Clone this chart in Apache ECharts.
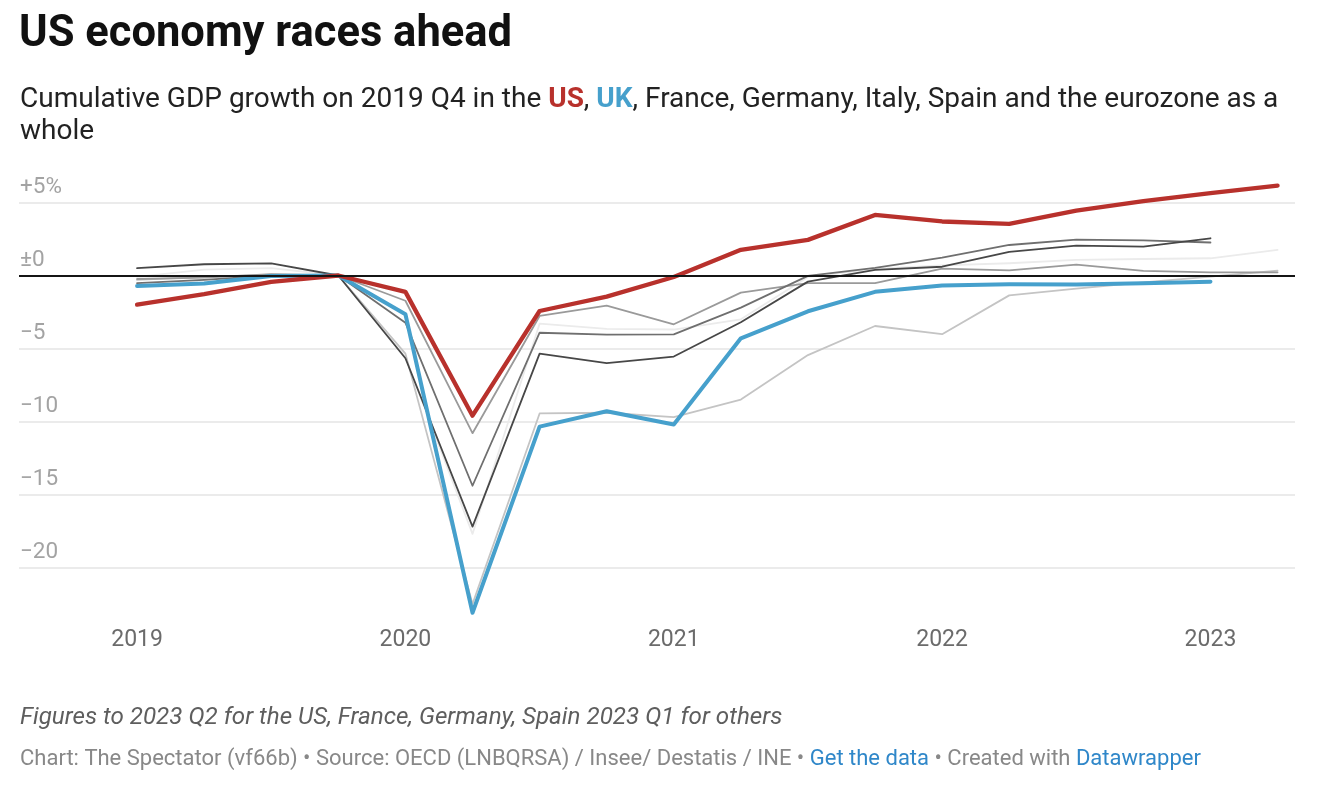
<!DOCTYPE html>
<html>
<head>
<meta charset="utf-8">
<script src="https://cdn.jsdelivr.net/npm/echarts@6/dist/echarts.min.js"></script>
<style>
  html, body { margin: 0; padding: 0; background: #fff; }
  #chart { width: 1328px; height: 808px; }
</style>
</head>
<body>
<div id="chart"></div>
<script>
// Quarters from 2019 Q1 to 2023 Q2 (index 0..17)
const quarters = ['2019 Q1','2019 Q2','2019 Q3','2019 Q4','2020 Q1','2020 Q2','2020 Q3','2020 Q4',
                  '2021 Q1','2021 Q2','2021 Q3','2021 Q4','2022 Q1','2022 Q2','2022 Q3','2022 Q4',
                  '2023 Q1','2023 Q2'];
const yearLabels = ['2019','2020','2021','2022','2023'];
const yearTickIndex = [0, 4, 8, 12, 16];

// Cumulative GDP growth vs 2019 Q4 (%)
const usData      = [-2.0, -1.28, -0.43, 0, -1.12, -9.6, -2.43, -1.45, -0.1, 1.76, 2.44, 4.15, 3.7, 3.54, 4.45, 5.09, 5.64, 6.16];
const ukData      = [-0.72, -0.55, -0.03, 0, -2.65, -23.1, -10.35, -9.3, -10.2, -4.3, -2.45, -1.12, -0.68, -0.6, -0.62, -0.53, -0.42, null];
const italyData   = [0.5, 0.77, 0.83, 0, -5.67, -17.2, -5.35, -6.0, -5.55, -3.2, -0.42, 0.38, 0.6, 1.62, 2.05, 1.98, 2.55, null];
const eurozoneData= [-0.52, -0.3, 0.0, 0, -3.23, -14.4, -3.92, -4.05, -4.03, -2.2, -0.03, 0.52, 1.22, 2.09, 2.46, 2.4, 2.26, null];
const germanyData = [-0.24, -0.15, 0.1, 0, -1.73, -10.8, -2.77, -2.07, -3.34, -1.17, -0.52, -0.52, 0.47, 0.35, 0.75, 0.31, 0.22, 0.22];
const spainData   = [-0.3, -0.1, 0.05, 0, -5.35, -22.5, -9.45, -9.4, -9.7, -8.5, -5.45, -3.46, -4.02, -1.36, -0.9, -0.47, -0.08, 0.33];
const franceData  = [-0.1, 0.4, 0.5, 0, -5.6, -17.7, -3.3, -3.65, -3.7, -3.0, -0.1, 0.45, 0.7, 0.84, 1.07, 1.13, 1.18, 1.75];

function toPoints(arr) {
  const out = [];
  arr.forEach((v, i) => { if (v !== null) out.push([i, v]); });
  return out;
}

const FONT = 'Roboto, "Noto Sans", sans-serif';
const chart = echarts.init(document.getElementById('chart'), null, { renderer: 'canvas' });

function greySeries(name, data, color) {
  return {
    name, type: 'line', data: toPoints(data), symbol: 'none', silent: true,
    lineStyle: { color, width: 1.8, cap: 'round', join: 'round' }, z: 2
  };
}

const option = {
  backgroundColor: '#fff',
  animation: false,
  title: [
    {
      text: 'US economy races ahead',
      left: 19, top: 13, padding: 0,
      textStyle: { fontFamily: FONT, fontSize: 43.5, fontWeight: 'bold', color: '#111' }
    },
    {
      text: 'Cumulative GDP growth on 2019 Q4 in the {us|US}, {uk|UK}, France, Germany, Italy, Spain and the eurozone as a\nwhole',
      left: 20, top: 84, padding: 0,
      textStyle: {
        fontFamily: FONT, fontSize: 28, fontWeight: 'normal', color: '#222', lineHeight: 32,
        rich: {
          us: { fontFamily: FONT, fontSize: 28, fontWeight: 'bold', color: '#b8312c', lineHeight: 32 },
          uk: { fontFamily: FONT, fontSize: 28, fontWeight: 'bold', color: '#46a0cc', lineHeight: 32 }
        }
      }
    },
    {
      text: 'Figures to 2023 Q2 for the US, France, Germany, Spain 2023 Q1 for others',
      left: 20, top: 706, padding: 0,
      textStyle: { fontFamily: FONT, fontSize: 24.2, fontStyle: 'italic', fontWeight: 'normal', color: '#5e5e5e' }
    },
    {
      text: 'Chart: The Spectator (vf66b) • Source: OECD (LNBQRSA) / Insee/ Destatis / INE • {link|Get the data} • Created with {link|Datawrapper}',
      left: 20, top: 748, padding: 0,
      textStyle: {
        fontFamily: FONT, fontSize: 22, fontWeight: 'normal', color: '#888',
        rich: { link: { fontFamily: FONT, fontSize: 22, color: '#2f87c9' } }
      }
    }
  ],
  grid: { left: 19, right: 33, top: 173.3, bottom: 167.5 },
  xAxis: {
    type: 'value',
    min: -1.76, max: 17.26,
    axisLine: { show: false },
    axisTick: { show: false },
    splitLine: { show: false },
    axisLabel: {
      customValues: yearTickIndex,
      formatter: v => yearLabels[yearTickIndex.indexOf(Math.round(v))] || '',
      margin: -12,
      fontFamily: FONT, fontSize: 23, color: '#6b6b6b'
    }
  },
  yAxis: {
    type: 'value',
    min: -25, max: 7, interval: 5,
    axisLine: { show: false },
    axisTick: { show: false },
    splitLine: { show: true, showMinLine: false, showMaxLine: false, lineStyle: { color: '#e4e4e4', width: 1.6 } },
    axisLabel: {
      inside: true, margin: 1,
      showMinLabel: false, showMaxLabel: false,
      verticalAlign: 'bottom', padding: [0, 0, 4, 0],
      formatter: v => v === 0 ? '±0' : (v > 0 ? '+' + v + '%' : '\u2212' + Math.abs(v)),
      fontFamily: FONT, fontSize: 22.5, color: '#a3a3a3'
    },
    z: 1
  },
  series: [
    Object.assign(greySeries('France', franceData, '#ebebeb'), {
      markLine: {
        silent: true, symbol: ['none', 'none'], label: { show: false },
        lineStyle: { color: '#151515', width: 2, type: 'solid' },
        data: [{ yAxis: 0 }]
      }
    }),
    greySeries('Spain', spainData, '#c4c4c4'),
    greySeries('Germany', germanyData, '#9a9a9a'),
    greySeries('Eurozone', eurozoneData, '#6f6f6f'),
    greySeries('Italy', italyData, '#474747'),
    {
      name: 'UK', type: 'line', data: toPoints(ukData), symbol: 'none', silent: true,
      lineStyle: { color: '#46a0cc', width: 4, cap: 'round', join: 'round' }, z: 3
    },
    {
      name: 'US', type: 'line', data: toPoints(usData), symbol: 'none', silent: true,
      lineStyle: { color: '#b8312c', width: 4.3, cap: 'round', join: 'round' }, z: 4
    }
  ]
};

chart.setOption(option);
</script>
</body>
</html>
